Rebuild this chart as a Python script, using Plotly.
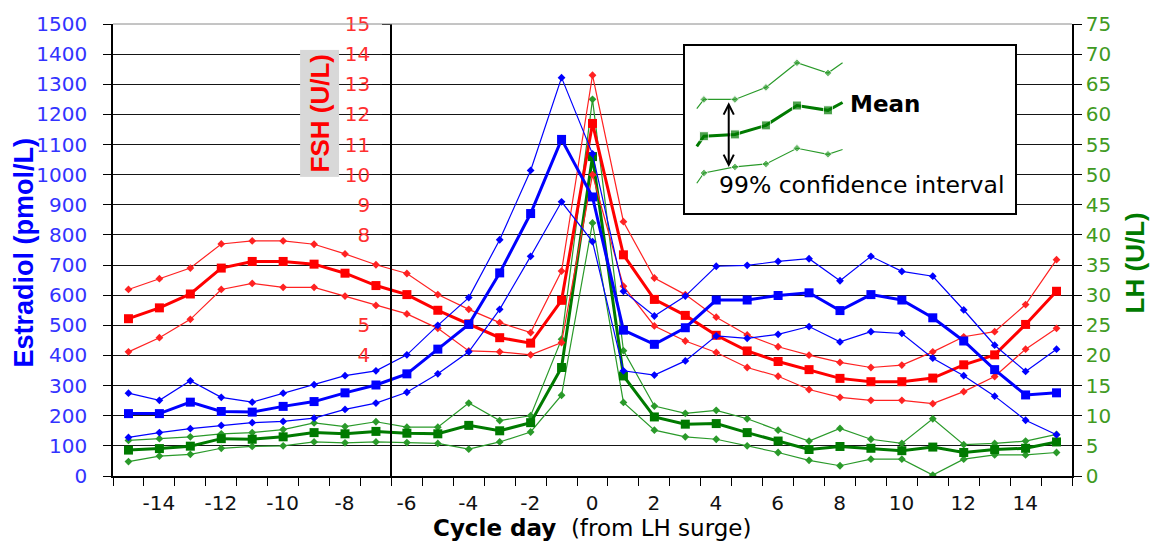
import plotly.graph_objects as go

# ---------------- data ----------------
days = list(range(-15, 16))
x_tick_marks = [v + 0.5 for v in range(-16, 16)]  # category boundaries -15.5 .. 15.5
x_tick_labels = {d - 0.5: str(d) for d in range(-14, 15, 2)}  # label shown right of its tick

e2_mean = [207, 207, 245, 214, 212, 231, 247, 276, 302, 339, 421, 503, 674, 871, 1117, 926,
           484, 437, 492, 584, 584, 599, 608, 549, 602, 584, 525, 448, 353, 269, 276]
e2_upper = [275, 251, 316, 261, 245, 275, 303, 333, 349, 402, 500, 592, 784, 1014, 1322, 1069,
            613, 531, 597, 696, 699, 712, 721, 648, 729, 679, 663, 551, 434, 347, 421]
e2_lower = [128, 144, 157, 168, 177, 181, 192, 221, 242, 278, 339, 412, 553, 729, 910, 778,
            349, 335, 382, 465, 457, 470, 496, 445, 479, 473, 391, 333, 265, 185, 137]

fsh_mean = [5.22, 5.58, 6.04, 6.9, 7.12, 7.12, 7.03, 6.73, 6.32, 6.02, 5.5, 5.05, 4.59, 4.41, 5.83, 11.7,
            7.34, 5.86, 5.33, 4.67, 4.15, 3.80, 3.53, 3.24, 3.13, 3.13, 3.25, 3.69, 4.02, 5.03, 6.13]
fsh_upper = [6.19, 6.55, 6.9, 7.7, 7.8, 7.8, 7.69, 7.37, 7.01, 6.72, 6.02, 5.53, 5.09, 4.76, 6.8, 13.3,
             8.44, 6.57, 6.02, 5.27, 4.68, 4.29, 4.01, 3.77, 3.60, 3.68, 4.12, 4.62, 4.79, 5.69, 7.18]
fsh_lower = [4.12, 4.59, 5.2, 6.19, 6.39, 6.26, 6.26, 5.97, 5.66, 5.38, 4.9, 4.15, 4.12, 4.02, 4.43, 10.0,
             6.3, 4.98, 4.48, 4.10, 3.60, 3.31, 2.87, 2.61, 2.51, 2.51, 2.40, 2.80, 3.30, 4.21, 4.90]

lh_mean = [4.3, 4.55, 4.95, 6.2, 6.1, 6.5, 7.2, 7.0, 7.4, 7.1, 7.0, 8.4, 7.5, 8.85, 18.0, 53.0,
           16.6, 9.8, 8.6, 8.7, 7.2, 5.8, 4.4, 4.9, 4.6, 4.2, 4.8, 3.9, 4.4, 4.6, 5.65]
lh_upper = [5.9, 6.2, 6.5, 7.0, 7.2, 7.7, 8.8, 8.2, 9.0, 8.1, 8.1, 12.1, 9.2, 10.0, 22.7, 62.5,
            20.8, 11.6, 10.4, 10.9, 9.5, 7.6, 5.8, 7.9, 6.1, 5.4, 9.5, 5.2, 5.4, 5.8, 6.9]
lh_lower = [2.4, 3.3, 3.6, 4.6, 4.9, 5.0, 5.65, 5.5, 5.65, 5.55, 5.4, 4.45, 5.65, 7.3, 13.4, 42.0,
            12.2, 7.6, 6.5, 6.1, 5.0, 3.9, 2.6, 1.7, 2.8, 2.8, 0.15, 2.8, 3.5, 3.5, 3.9]

fsh_tick_vals = [4, 5, 8, 9, 10, 11, 12, 13, 14, 15]

# legend sample (inset key)
key_x = [-0.23, 0, 1, 2, 3, 4, 4.47]
key_mean = [11.0, 12.7, 13.0, 14.5, 17.8, 17.0, 18.3]
key_upper = [17.3, 18.8, 18.8, 20.8, 24.9, 23.2, 24.9]
key_lower = [4.9, 6.6, 7.6, 8.1, 10.7, 9.7, 10.5]

# ---------------- styles ----------------
BLUE = "#0000FF"
RED = "#FF0000"
GREEN = "#007A00"
GREEN_CI = "#2A9A2A"
TICKFONT = "DejaVu Sans"
TITLEFONT = "Liberation Sans"
TICKSIZE = 20

fig = go.Figure()


def add_series(y, yaxis, color, mean, xaxis="x", x=days, sizes=None):
    if mean:
        line = dict(color=color, width=3)
        marker = dict(symbol="square", size=sizes if sizes else 9, color=color)
    else:
        line = dict(color=color, width=1.2)
        marker = dict(symbol="diamond", size=sizes if sizes else 6, color=color)
    fig.add_trace(go.Scatter(x=x, y=y, mode="lines+markers", line=line, marker=marker,
                             xaxis=xaxis, yaxis=yaxis, showlegend=False, hoverinfo="skip"))


# LH (main y, drawn first / lowest)
add_series(lh_upper, "y", GREEN_CI, False)
add_series(lh_lower, "y", GREEN_CI, False)
add_series(lh_mean, "y", GREEN, True)
# FSH
add_series(fsh_upper, "y2", "#FF2222", False)
add_series(fsh_lower, "y2", "#FF2222", False)
add_series(fsh_mean, "y2", RED, True)
# Estradiol
add_series(e2_upper, "y3", BLUE, False)
add_series(e2_lower, "y3", BLUE, False)
add_series(e2_mean, "y3", BLUE, True)

# inset key
ks_ci = [0, 6, 6, 6, 6, 6, 0]
ks_mean = [0, 9, 9, 9, 9, 9, 0]
add_series(key_upper, "y4", GREEN_CI, False, xaxis="x2", x=key_x, sizes=ks_ci)
add_series(key_lower, "y4", GREEN_CI, False, xaxis="x2", x=key_x, sizes=ks_ci)
add_series(key_mean, "y4", GREEN, True, xaxis="x2", x=key_x, sizes=ks_mean)

axis_line = dict(showline=True, linecolor="black", linewidth=1.5, zeroline=False)
half_cat_px = int(round(959 / 31.0 / 2))

fig.update_layout(
    width=1151, height=541,
    margin=dict(l=113, r=79, t=21, b=65, pad=0),
    paper_bgcolor="white", plot_bgcolor="white",
    showlegend=False,
    xaxis=dict(
        domain=[0, 1], anchor="y", range=[-15.5, 15.5],
        tickmode="array", tickvals=x_tick_marks,
        ticktext=[x_tick_labels.get(v, "") for v in x_tick_marks],
        ticklabelshift=half_cat_px, ticklabelstandoff=0,
        ticks="outside", ticklen=8, tickwidth=1.3, tickcolor="black",
        tickfont=dict(family=TICKFONT, size=TICKSIZE, color="#111111"),
        showgrid=False, **axis_line,
    ),
    yaxis=dict(  # LH (right)
        side="right", anchor="x", range=[0, 75], tick0=0, dtick=5,
        ticks="outside", ticklen=8, tickwidth=1.3, tickcolor="black",
        tickfont=dict(family=TICKFONT, size=TICKSIZE, color="#3F9A22"),
        showgrid=True, gridcolor="#151515", gridwidth=1.4, **axis_line,
    ),
    yaxis2=dict(  # FSH (inner axis)
        overlaying="y", anchor="free", position=(391 - 113) / 959, side="left",
        range=[0, 15], tickmode="array", tickvals=fsh_tick_vals,
        ticks="outside", ticklen=8, tickwidth=1.3, tickcolor="black", ticklabelstandoff=8,
        tickfont=dict(family=TICKFONT, size=TICKSIZE, color="#FF3030"),
        showgrid=False, **axis_line,
    ),
    yaxis3=dict(  # Estradiol (left)
        overlaying="y", anchor="x", side="left", range=[0, 1500], tick0=0, dtick=100,
        ticks="outside", ticklen=8, tickwidth=1.3, tickcolor="black", ticklabelstandoff=12,
        tickfont=dict(family=TICKFONT, size=TICKSIZE, color="#3333FF"),
        showgrid=False, **axis_line,
    ),
    xaxis2=dict(
        domain=[(685 - 113) / 959, (1015 - 113) / 959], anchor="y4", range=[-0.61, 10.03],
        showline=True, mirror=True, linecolor="black", linewidth=2,
        showgrid=False, zeroline=False, showticklabels=False, ticks="",
    ),
    yaxis4=dict(
        domain=[(476 - 211) / 455, (476 - 43) / 455], anchor="x2", range=[0, 27.7],
        showline=True, mirror=True, linecolor="black", linewidth=2,
        showgrid=False, zeroline=False, showticklabels=False, ticks="",
    ),
)

# top border of the plot area
fig.add_shape(type="line", xref="paper", yref="paper", x0=0, x1=1, y0=1, y1=1,
              line=dict(color="#8A8A8A", width=1), layer="above")

# titles
fig.add_annotation(xref="paper", yref="paper", x=(24 - 113) / 959, y=(476 - 251) / 455,
                   xanchor="center", yanchor="middle",
                   text="<b>Estradiol (pmol/L)</b>", textangle=-90, showarrow=False,
                   font=dict(family=TITLEFONT, size=27, color=BLUE))
fig.add_annotation(xref="paper", yref="paper", x=(320 - 113) / 959, y=(476 - 111) / 455,
                   xanchor="center", yanchor="middle",
                   text="<b>FSH (U/L)</b>", textangle=-90, showarrow=False,
                   bgcolor="#D8D8D8", borderpad=4,
                   font=dict(family=TITLEFONT, size=26, color=RED))
fig.add_annotation(xref="paper", yref="paper", x=(1135 - 113) / 959, y=(476 - 262) / 455,
                   xanchor="center", yanchor="middle",
                   text="<b>LH (U/L)</b>", textangle=-90, showarrow=False,
                   font=dict(family=TITLEFONT, size=26, color="#007A00"))
fig.add_annotation(xref="paper", yref="paper", x=(592 - 113) / 959, y=(476 - 528) / 455,
                   xanchor="center", yanchor="middle",
                   text="<b>Cycle day</b>&nbsp; (from LH surge)", showarrow=False,
                   font=dict(family=TICKFONT, size=23, color="black"))

# inset key texts and arrow
fig.add_annotation(xref="x2", yref="y4", x=0.8, y=7.6, ax=0.8, ay=18.6, axref="x2", ayref="y4",
                   text="", showarrow=True, arrowhead=5, startarrowhead=5, arrowside="end+start",
                   arrowwidth=2, arrowsize=1, startarrowsize=1, arrowcolor="black")
fig.add_annotation(xref="x2", yref="y4", x=4.63, y=18.0, xanchor="left", yanchor="middle",
                   text="<b>Mean</b>",
                   showarrow=False, font=dict(family=TICKFONT, size=23, color="black"))
fig.add_annotation(xref="x2", yref="y4", x=0.42, y=4.6, xanchor="left", yanchor="middle",
                   text="99% confidence interval",
                   showarrow=False, font=dict(family=TICKFONT, size=23.5, color="black"))

fig.write_html("out.html", config={"displayModeBar": False},
               post_script="document.body.style.margin='0px';")
